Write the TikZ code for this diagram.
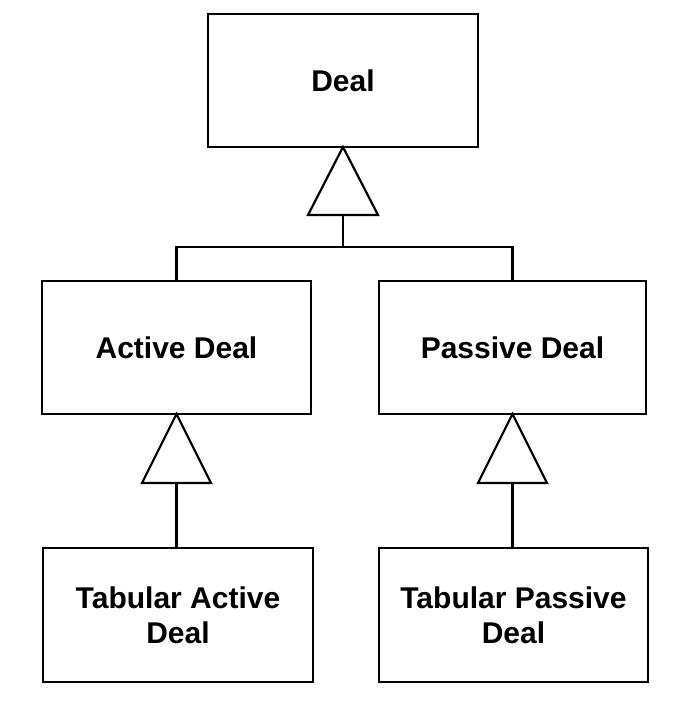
\documentclass[tikz,border=0pt]{standalone}
\usepackage{fontspec}
\setmainfont{Liberation Sans}
\usetikzlibrary{calc}
\begin{document}
\begin{tikzpicture}[x=1pt,y=-1pt,
  classbox/.style={draw, line width=2.2pt, inner sep=0pt, outer sep=0pt,
    align=center, font=\bfseries\fontsize{30}{35}\selectfont},
  link/.style={line width=2.2pt},
  inherit/.style={line width=2.2pt, line join=miter}]
\useasboundingbox (0,0) rectangle (685,704);
\node[classbox, minimum width=270pt, minimum height=133pt] (deal) at (343,80.5) {Deal};
\node[classbox, minimum width=269pt, minimum height=133pt] (active) at (176.5,347.5) {Active Deal};
\node[classbox, minimum width=267pt, minimum height=133pt] (passive) at (512.5,347.5) {Passive Deal};
\node[classbox, minimum width=270pt, minimum height=134pt] (tactive) at (178,615) {Tabular Active\\Deal};
\node[classbox, minimum width=269pt, minimum height=134pt] (tpassive) at (513.5,615) {Tabular Passive\\Deal};
% generalization triangle under Deal
\coordinate (t0) at (deal.south);
\draw[inherit] (t0) -- ($(t0)+(35,68)$) -- ($(t0)+(-35,68)$) -- cycle;
\coordinate (t0b) at ($(t0)+(0,68)$);
\coordinate (bus) at ($(t0)+(0,100)$);
\draw[link] (t0b) -- (bus);
\draw[link] (active.north) -- (active.north |- bus) -- (passive.north |- bus) -- (passive.north);
% triangle under Active Deal
\coordinate (t1) at (active.south);
\draw[inherit] (t1) -- ($(t1)+(34.5,69)$) -- ($(t1)+(-34.5,69)$) -- cycle;
\draw[link] ($(t1)+(0,69)$) -- (t1 |- tactive.north);
% triangle under Passive Deal
\coordinate (t2) at (passive.south);
\draw[inherit] (t2) -- ($(t2)+(34.5,69)$) -- ($(t2)+(-34.5,69)$) -- cycle;
\draw[link] ($(t2)+(0,69)$) -- (t2 |- tpassive.north);
\end{tikzpicture}
\end{document}
